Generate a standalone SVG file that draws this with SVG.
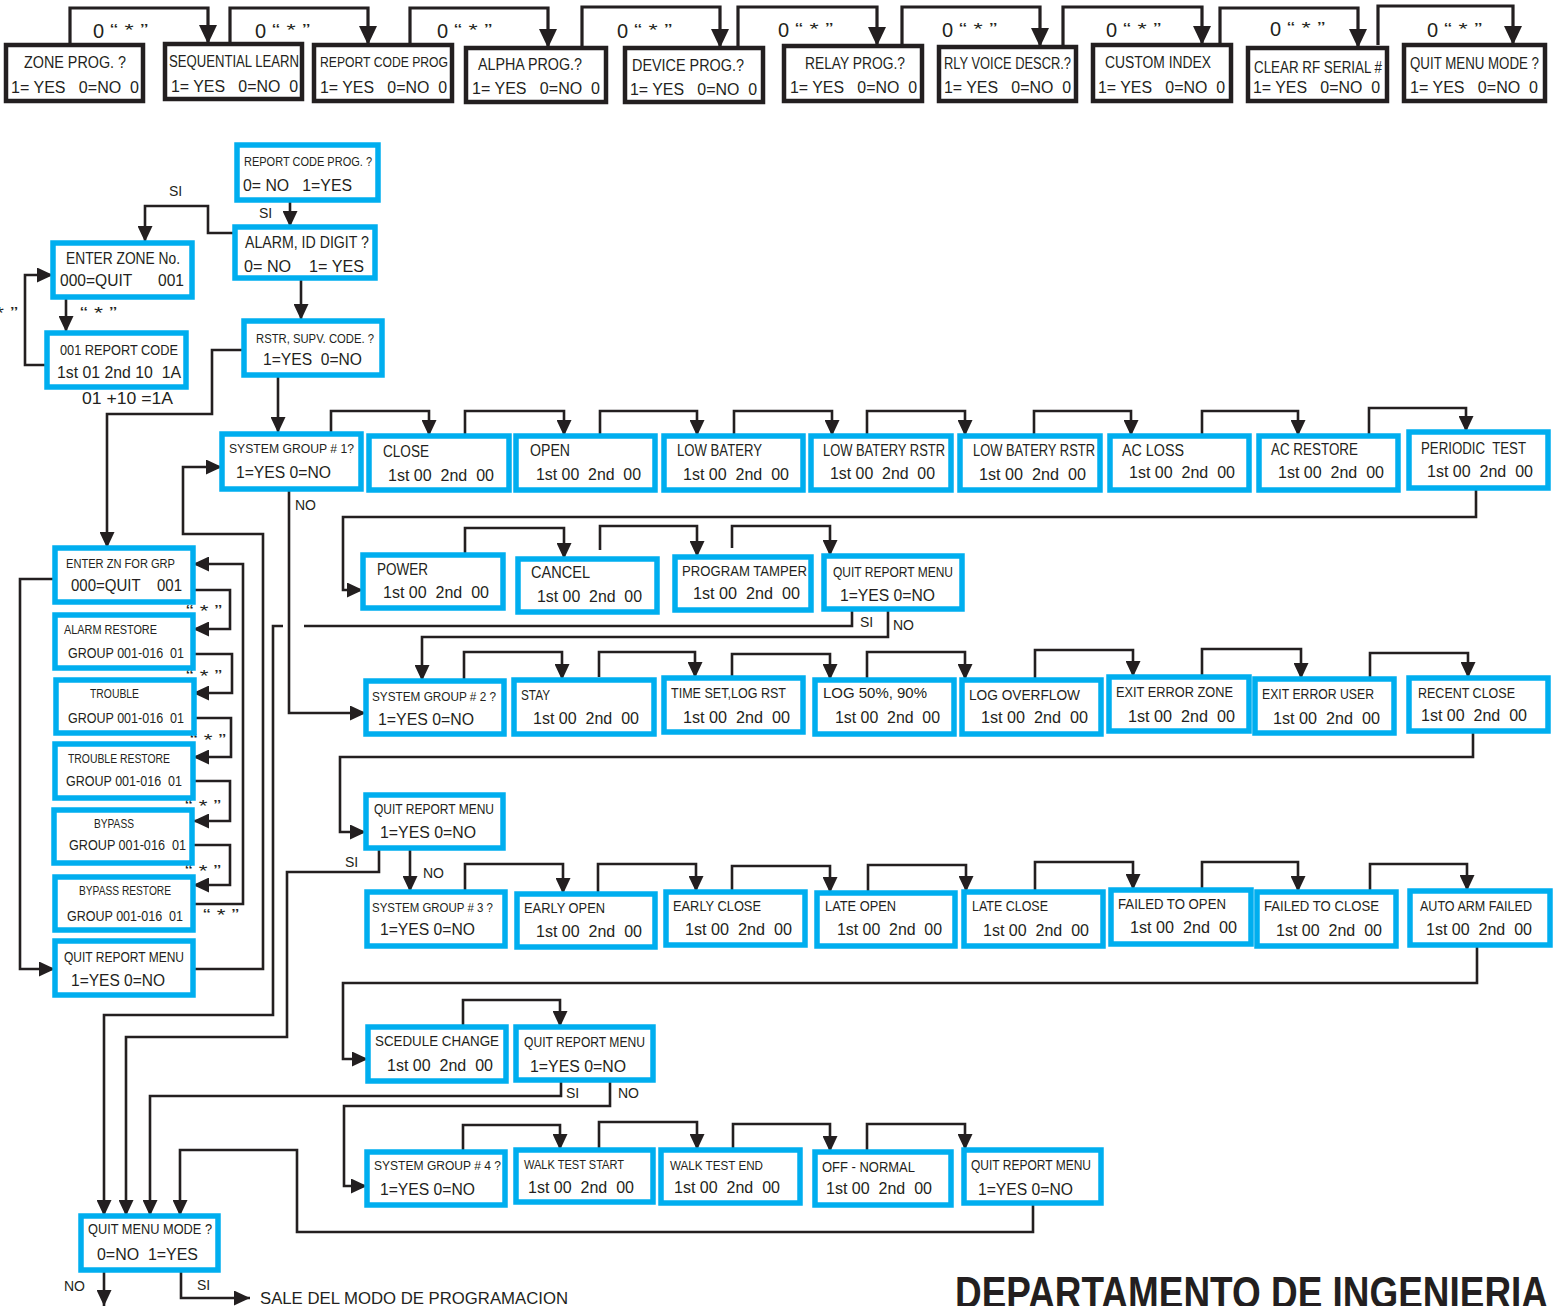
<svg xmlns="http://www.w3.org/2000/svg" width="1555" height="1306" viewBox="0 0 1555 1306" xml:space="preserve">
<style>
text{font-family:"Liberation Sans",Arial,sans-serif;fill:#231f20;font-size:16px;white-space:pre}
.s{font-size:12px}
.m{font-size:14px}
.k{fill:#fff;stroke:#231f20;stroke-width:4.5}
.b{fill:#fff;stroke:#00aeef;stroke-width:5.5}
.c{fill:none;stroke:#231f20;stroke-width:2.6}
.ct{fill:none;stroke:#231f20;stroke-width:3.2}
.q{font-size:16px}
.big{font-size:20px}
.ttl{font-size:44px;font-weight:bold}
</style>
<defs>
<marker id="a" markerUnits="userSpaceOnUse" markerWidth="16" markerHeight="15" refX="16" refY="7.5" orient="auto"><path d="M0,0 L16,7.5 L0,15 z" fill="#231f20"/></marker>
<marker id="A" markerUnits="userSpaceOnUse" markerWidth="19" markerHeight="18" refX="19" refY="9" orient="auto"><path d="M0,0 L19,9 L0,18 z" fill="#231f20"/></marker>
</defs>

<g id="connectors">
<g class="ct" marker-end="url(#A)">
<path d="M70,45 V8 H208 V44"/>
<path d="M230,44 V8 H368 V45"/>
<path d="M410,45 V8 H548 V48"/>
<path d="M582,48 V7 H720 V48"/>
<path d="M738,48 V7 H877 V46"/>
<path d="M902,46 V7 H1040 V47"/>
<path d="M1063,45 V7 H1202 V45"/>
<path d="M1220,45 V8 H1358 V48"/>
<path d="M1378,45 V6 H1513 V45"/>
</g>
<g class="c" marker-end="url(#a)">
<path d="M290,202 V227"/>
<path d="M235,233 H208 V206 H145 V242"/>
<path d="M66,297 V332"/>
<path d="M47,365 H25 V275 H53"/>
<path d="M301,278 V320"/>
<path d="M244,350 H212 V414 H107 V548"/>
<path d="M278,375 V433"/>
<path d="M331,434 V411 H429 V436"/>
<path d="M465,436 V411 H564 V436"/>
<path d="M600,436 V411 H697 V436"/>
<path d="M734,436 V411 H832 V436"/>
<path d="M867,436 V411 H965 V436"/>
<path d="M1034,436 V411 H1131 V436"/>
<path d="M1202,436 V411 H1298 V436"/>
<path d="M1369,436 V408 H1466 V432"/>
<path d="M1476,488 V517 H343 V590 H363"/>
<path d="M465,555 V528 H564 V559"/>
<path d="M600,550 V526 H697 V557"/>
<path d="M732,548 V526 H830 V556"/>
<path d="M283,626 H273 V1015 H104 V1216"/>
<path d="M888,609 V637 H422 V681"/>
<path d="M289,490 V713 H366"/>
<path d="M464,680 V652 H562 V680"/>
<path d="M599,677 V652 H695 V678"/>
<path d="M732,678 V654 H830 V680"/>
<path d="M867,680 V652 H965 V680"/>
<path d="M1035,680 V650 H1133 V677"/>
<path d="M1202,677 V649 H1301 V679"/>
<path d="M1370,679 V653 H1468 V678"/>
<path d="M1473,731 V757 H340 V832 H366"/>
<path d="M379,848 V872 H287 V1037 H126 V1216"/>
<path d="M410,848 V892"/>
<path d="M465,890 V864 H563 V894"/>
<path d="M598,894 V864 H696 V892"/>
<path d="M732,892 V866 H830 V893"/>
<path d="M868,893 V865 H966 V892"/>
<path d="M1035,892 V862 H1133 V890"/>
<path d="M1202,890 V862 H1298 V892"/>
<path d="M1370,892 V864 H1467 V891"/>
<path d="M1477,945 V983 H343 V1059 H368"/>
<path d="M463,1027 V1000 H560 V1027"/>
<path d="M561,1080 V1096 H150 V1216"/>
<path d="M610,1080 V1106 H344 V1186 H367"/>
<path d="M463,1152 V1125 H560 V1150"/>
<path d="M599,1150 V1122 H697 V1150"/>
<path d="M733,1150 V1124 H830 V1152"/>
<path d="M867,1152 V1124 H965 V1150"/>
<path d="M1033,1203 V1232 H297 V1150 H180 V1216"/>
<path d="M104,1270 V1306"/>
<path d="M181,1270 V1298 H250"/>
<path d="M55,579 H20 V969 H55"/>
<path d="M193,969 H263 V534 H183 V467 H222"/>
<path d="M193,590 H230 V629 H193"/>
<path d="M193,654 H232 V693 H193"/>
<path d="M193,718 H231 V757 H193"/>
<path d="M193,781 H230 V821 H193"/>
<path d="M193,845 H230 V885 H193"/>
<path d="M193,904 H243 V564 H193"/>
</g>
<path class="c" d="M852,609 V626 H304"/>
<g id="connector-labels">
<text x="93" y="38" class="big">0</text><text x="110" y="36" class="q" textLength="38" lengthAdjust="spacingAndGlyphs">“ * ”</text>
<text x="255" y="38" class="big">0</text><text x="272" y="36" class="q" textLength="38" lengthAdjust="spacingAndGlyphs">“ * ”</text>
<text x="437" y="38" class="big">0</text><text x="454" y="36" class="q" textLength="38" lengthAdjust="spacingAndGlyphs">“ * ”</text>
<text x="617" y="38" class="big">0</text><text x="634" y="36" class="q" textLength="38" lengthAdjust="spacingAndGlyphs">“ * ”</text>
<text x="778" y="37" class="big">0</text><text x="795" y="35" class="q" textLength="38" lengthAdjust="spacingAndGlyphs">“ * ”</text>
<text x="942" y="37" class="big">0</text><text x="959" y="35" class="q" textLength="38" lengthAdjust="spacingAndGlyphs">“ * ”</text>
<text x="1106" y="37" class="big">0</text><text x="1123" y="35" class="q" textLength="38" lengthAdjust="spacingAndGlyphs">“ * ”</text>
<text x="1270" y="36" class="big">0</text><text x="1287" y="34" class="q" textLength="38" lengthAdjust="spacingAndGlyphs">“ * ”</text>
<text x="1427" y="37" class="big">0</text><text x="1444" y="35" class="q" textLength="38" lengthAdjust="spacingAndGlyphs">“ * ”</text>
<text x="169" y="196" class="m">SI</text>
<text x="259" y="218" class="m">SI</text>
<text x="80" y="319" class="q" textLength="37" lengthAdjust="spacingAndGlyphs">“ * ”</text>
<text x="-19" y="319" class="q" textLength="37" lengthAdjust="spacingAndGlyphs">“ * ”</text>
<text x="82" y="404" textLength="91" lengthAdjust="spacingAndGlyphs">01 +10 =1A</text>
<text x="295" y="510" class="m">NO</text>
<text x="860" y="627" class="m">SI</text>
<text x="893" y="630" class="m">NO</text>
<text x="345" y="867" class="m">SI</text>
<text x="423" y="878" class="m">NO</text>
<text x="566" y="1098" class="m">SI</text>
<text x="618" y="1098" class="m">NO</text>
<text x="186" y="617" class="q" textLength="36" lengthAdjust="spacingAndGlyphs">“ * ”</text>
<text x="186" y="682" class="q" textLength="36" lengthAdjust="spacingAndGlyphs">“ * ”</text>
<text x="190" y="746" class="q" textLength="36" lengthAdjust="spacingAndGlyphs">“ * ”</text>
<text x="185" y="812" class="q" textLength="36" lengthAdjust="spacingAndGlyphs">“ * ”</text>
<text x="185" y="877" class="q" textLength="36" lengthAdjust="spacingAndGlyphs">“ * ”</text>
<text x="203" y="921" class="q" textLength="36" lengthAdjust="spacingAndGlyphs">“ * ”</text>
<text x="64" y="1291" class="m">NO</text>
<text x="197" y="1290" class="m">SI</text>
<text x="260" y="1304" font-size="18" textLength="308" lengthAdjust="spacingAndGlyphs">SALE DEL MODO DE PROGRAMACION</text>
</g>
</g>

<g id="n-zone-prog"><rect class="k" x="6" y="45" width="137" height="56"/><text x="24" y="68" textLength="102" lengthAdjust="spacingAndGlyphs">ZONE PROG. ?</text><text x="11" y="93" textLength="128" lengthAdjust="spacingAndGlyphs">1= YES   0=NO  0</text></g>
<g id="n-seq-learn"><rect class="k" x="165" y="44" width="137" height="55"/><text x="169" y="67" textLength="130" lengthAdjust="spacingAndGlyphs">SEQUENTIAL LEARN</text><text x="171" y="92" textLength="127" lengthAdjust="spacingAndGlyphs">1= YES   0=NO  0</text></g>
<g id="n-report-code-prog"><rect class="k" x="314" y="45" width="138" height="56"/><text x="320" y="67" class="m" textLength="128" lengthAdjust="spacingAndGlyphs">REPORT CODE PROG</text><text x="320" y="93" textLength="127" lengthAdjust="spacingAndGlyphs">1= YES   0=NO  0</text></g>
<g id="n-alpha-prog"><rect class="k" x="466" y="48" width="140" height="54"/><text x="478" y="70" textLength="104" lengthAdjust="spacingAndGlyphs">ALPHA PROG.?</text><text x="472" y="94" textLength="128" lengthAdjust="spacingAndGlyphs">1= YES   0=NO  0</text></g>
<g id="n-device-prog"><rect class="k" x="625" y="48" width="138" height="54"/><text x="632" y="71" textLength="112" lengthAdjust="spacingAndGlyphs">DEVICE PROG.?</text><text x="630" y="95" textLength="127" lengthAdjust="spacingAndGlyphs">1= YES   0=NO  0</text></g>
<g id="n-relay-prog"><rect class="k" x="784" y="46" width="138" height="55"/><text x="805" y="69" textLength="100" lengthAdjust="spacingAndGlyphs">RELAY PROG.?</text><text x="790" y="93" textLength="127" lengthAdjust="spacingAndGlyphs">1= YES   0=NO  0</text></g>
<g id="n-rly-voice"><rect class="k" x="939" y="47" width="137" height="54"/><text x="944" y="69" textLength="127" lengthAdjust="spacingAndGlyphs">RLY VOICE DESCR.?</text><text x="944" y="93" textLength="127" lengthAdjust="spacingAndGlyphs">1= YES   0=NO  0</text></g>
<g id="n-custom-index"><rect class="k" x="1093" y="45" width="138" height="56"/><text x="1105" y="68" textLength="106" lengthAdjust="spacingAndGlyphs">CUSTOM INDEX</text><text x="1098" y="93" textLength="127" lengthAdjust="spacingAndGlyphs">1= YES   0=NO  0</text></g>
<g id="n-clear-rf"><rect class="k" x="1248" y="48" width="139" height="53"/><text x="1254" y="73" textLength="128" lengthAdjust="spacingAndGlyphs">CLEAR RF SERIAL #</text><text x="1253" y="93" textLength="127" lengthAdjust="spacingAndGlyphs">1= YES   0=NO  0</text></g>
<g id="n-quit-menu-top"><rect class="k" x="1404" y="45" width="141" height="56"/><text x="1410" y="69" textLength="129" lengthAdjust="spacingAndGlyphs">QUIT MENU MODE ?</text><text x="1410" y="93" textLength="128" lengthAdjust="spacingAndGlyphs">1= YES   0=NO  0</text></g>

<g id="n-rcp"><rect class="b" x="237" y="145" width="141" height="55"/><text x="244" y="166" class="s" textLength="128" lengthAdjust="spacingAndGlyphs">REPORT CODE PROG. ?</text><text x="243" y="191" textLength="109" lengthAdjust="spacingAndGlyphs">0= NO   1=YES</text></g>
<g id="n-alarm-id"><rect class="b" x="235" y="227" width="140" height="51"/><text x="245" y="248" textLength="124" lengthAdjust="spacingAndGlyphs">ALARM, ID DIGIT ?</text><text x="244" y="272" textLength="120" lengthAdjust="spacingAndGlyphs">0= NO    1= YES</text></g>
<g id="n-enter-zone"><rect class="b" x="53" y="243" width="139" height="54"/><text x="66" y="264" textLength="114" lengthAdjust="spacingAndGlyphs">ENTER ZONE No.</text><text x="60" y="286" textLength="124" lengthAdjust="spacingAndGlyphs">000=QUIT      001</text></g>
<g id="n-001-report"><rect class="b" x="47" y="333" width="139" height="54"/><text x="60" y="355" class="m" textLength="118" lengthAdjust="spacingAndGlyphs">001 REPORT CODE</text><text x="57" y="378" textLength="124" lengthAdjust="spacingAndGlyphs">1st 01 2nd 10  1A</text></g>
<g id="n-rstr"><rect class="b" x="244" y="321" width="138" height="54"/><text x="256" y="343" class="s" textLength="118" lengthAdjust="spacingAndGlyphs">RSTR, SUPV. CODE. ?</text><text x="263" y="365" textLength="99" lengthAdjust="spacingAndGlyphs">1=YES  0=NO</text></g>

<g id="n-sg1"><rect class="b" x="222" y="434" width="139" height="55"/><text x="229" y="453" class="s" textLength="125" lengthAdjust="spacingAndGlyphs">SYSTEM GROUP # 1?</text><text x="236" y="478" textLength="95" lengthAdjust="spacingAndGlyphs">1=YES 0=NO</text></g>
<g id="n-close"><rect class="b" x="369" y="436" width="140" height="54"/><text x="383" y="457" textLength="46" lengthAdjust="spacingAndGlyphs">CLOSE</text><text x="388" y="481" textLength="106" lengthAdjust="spacingAndGlyphs">1st 00  2nd  00</text></g>
<g id="n-open"><rect class="b" x="516" y="436" width="139" height="54"/><text x="530" y="456" textLength="40" lengthAdjust="spacingAndGlyphs">OPEN</text><text x="536" y="480" textLength="105" lengthAdjust="spacingAndGlyphs">1st 00  2nd  00</text></g>
<g id="n-low-batery"><rect class="b" x="664" y="436" width="139" height="54"/><text x="677" y="456" textLength="85" lengthAdjust="spacingAndGlyphs">LOW BATERY</text><text x="683" y="480" textLength="106" lengthAdjust="spacingAndGlyphs">1st 00  2nd  00</text></g>
<g id="n-lbr1"><rect class="b" x="811" y="436" width="140" height="54"/><text x="823" y="456" textLength="122" lengthAdjust="spacingAndGlyphs">LOW BATERY RSTR</text><text x="830" y="479" textLength="105" lengthAdjust="spacingAndGlyphs">1st 00  2nd  00</text></g>
<g id="n-lbr2"><rect class="b" x="960" y="436" width="140" height="54"/><text x="973" y="456" textLength="122" lengthAdjust="spacingAndGlyphs">LOW BATERY RSTR</text><text x="979" y="480" textLength="107" lengthAdjust="spacingAndGlyphs">1st 00  2nd  00</text></g>
<g id="n-ac-loss"><rect class="b" x="1110" y="436" width="139" height="54"/><text x="1122" y="456" textLength="62" lengthAdjust="spacingAndGlyphs">AC LOSS</text><text x="1129" y="478" textLength="106" lengthAdjust="spacingAndGlyphs">1st 00  2nd  00</text></g>
<g id="n-ac-restore"><rect class="b" x="1259" y="436" width="139" height="54"/><text x="1271" y="455" textLength="87" lengthAdjust="spacingAndGlyphs">AC RESTORE</text><text x="1278" y="478" textLength="106" lengthAdjust="spacingAndGlyphs">1st 00  2nd  00</text></g>
<g id="n-periodic"><rect class="b" x="1409" y="432" width="139" height="56"/><text x="1421" y="454" textLength="105" lengthAdjust="spacingAndGlyphs">PERIODIC  TEST</text><text x="1427" y="477" textLength="106" lengthAdjust="spacingAndGlyphs">1st 00  2nd  00</text></g>

<g id="n-power"><rect class="b" x="363" y="555" width="140" height="53"/><text x="377" y="575" textLength="51" lengthAdjust="spacingAndGlyphs">POWER</text><text x="383" y="598" textLength="106" lengthAdjust="spacingAndGlyphs">1st 00  2nd  00</text></g>
<g id="n-cancel"><rect class="b" x="518" y="559" width="139" height="53"/><text x="531" y="578" textLength="59" lengthAdjust="spacingAndGlyphs">CANCEL</text><text x="537" y="602" textLength="105" lengthAdjust="spacingAndGlyphs">1st 00  2nd  00</text></g>
<g id="n-prog-tamper"><rect class="b" x="675" y="557" width="136" height="53"/><text x="682" y="576" class="m" textLength="125" lengthAdjust="spacingAndGlyphs">PROGRAM TAMPER</text><text x="693" y="599" textLength="107" lengthAdjust="spacingAndGlyphs">1st 00  2nd  00</text></g>
<g id="n-qrm1"><rect class="b" x="824" y="556" width="138" height="53"/><text x="833" y="577" class="m" textLength="120" lengthAdjust="spacingAndGlyphs">QUIT REPORT MENU</text><text x="840" y="601" textLength="95" lengthAdjust="spacingAndGlyphs">1=YES 0=NO</text></g>

<g id="n-sg2"><rect class="b" x="366" y="681" width="138" height="53"/><text x="372" y="701" class="s" textLength="124" lengthAdjust="spacingAndGlyphs">SYSTEM GROUP # 2 ?</text><text x="378" y="725" textLength="96" lengthAdjust="spacingAndGlyphs">1=YES 0=NO</text></g>
<g id="n-stay"><rect class="b" x="514" y="680" width="140" height="54"/><text x="521" y="700" class="m" textLength="29" lengthAdjust="spacingAndGlyphs">STAY</text><text x="533" y="724" textLength="106" lengthAdjust="spacingAndGlyphs">1st 00  2nd  00</text></g>
<g id="n-time-set"><rect class="b" x="664" y="678" width="139" height="54"/><text x="671" y="698" class="m" textLength="115" lengthAdjust="spacingAndGlyphs">TIME SET,LOG RST</text><text x="683" y="723" textLength="107" lengthAdjust="spacingAndGlyphs">1st 00  2nd  00</text></g>
<g id="n-log50"><rect class="b" x="815" y="680" width="139" height="54"/><text x="823" y="698" class="m" textLength="104" lengthAdjust="spacingAndGlyphs">LOG 50%, 90%</text><text x="835" y="723" textLength="105" lengthAdjust="spacingAndGlyphs">1st 00  2nd  00</text></g>
<g id="n-log-overflow"><rect class="b" x="962" y="680" width="139" height="54"/><text x="969" y="700" class="m" textLength="111" lengthAdjust="spacingAndGlyphs">LOG OVERFLOW</text><text x="981" y="723" textLength="107" lengthAdjust="spacingAndGlyphs">1st 00  2nd  00</text></g>
<g id="n-exit-zone"><rect class="b" x="1109" y="677" width="140" height="54"/><text x="1116" y="697" class="m" textLength="117" lengthAdjust="spacingAndGlyphs">EXIT ERROR ZONE</text><text x="1128" y="722" textLength="107" lengthAdjust="spacingAndGlyphs">1st 00  2nd  00</text></g>
<g id="n-exit-user"><rect class="b" x="1255" y="679" width="139" height="54"/><text x="1262" y="699" class="m" textLength="112" lengthAdjust="spacingAndGlyphs">EXIT ERROR USER</text><text x="1273" y="724" textLength="107" lengthAdjust="spacingAndGlyphs">1st 00  2nd  00</text></g>
<g id="n-recent-close"><rect class="b" x="1409" y="678" width="139" height="53"/><text x="1418" y="698" class="m" textLength="97" lengthAdjust="spacingAndGlyphs">RECENT CLOSE</text><text x="1421" y="721" textLength="106" lengthAdjust="spacingAndGlyphs">1st 00  2nd  00</text></g>

<g id="n-qrm2"><rect class="b" x="366" y="795" width="137" height="53"/><text x="374" y="814" class="m" textLength="120" lengthAdjust="spacingAndGlyphs">QUIT REPORT MENU</text><text x="380" y="838" textLength="96" lengthAdjust="spacingAndGlyphs">1=YES 0=NO</text></g>

<g id="n-sg3"><rect class="b" x="367" y="892" width="138" height="54"/><text x="372" y="912" class="s" textLength="121" lengthAdjust="spacingAndGlyphs">SYSTEM GROUP # 3 ?</text><text x="380" y="935" textLength="95" lengthAdjust="spacingAndGlyphs">1=YES 0=NO</text></g>
<g id="n-early-open"><rect class="b" x="517" y="894" width="138" height="53"/><text x="524" y="913" class="m" textLength="81" lengthAdjust="spacingAndGlyphs">EARLY OPEN</text><text x="536" y="937" textLength="106" lengthAdjust="spacingAndGlyphs">1st 00  2nd  00</text></g>
<g id="n-early-close"><rect class="b" x="666" y="892" width="139" height="53"/><text x="673" y="911" class="m" textLength="88" lengthAdjust="spacingAndGlyphs">EARLY CLOSE</text><text x="685" y="935" textLength="107" lengthAdjust="spacingAndGlyphs">1st 00  2nd  00</text></g>
<g id="n-late-open"><rect class="b" x="817" y="893" width="138" height="53"/><text x="825" y="911" class="m" textLength="71" lengthAdjust="spacingAndGlyphs">LATE OPEN</text><text x="837" y="935" textLength="105" lengthAdjust="spacingAndGlyphs">1st 00  2nd  00</text></g>
<g id="n-late-close"><rect class="b" x="964" y="892" width="139" height="54"/><text x="972" y="911" class="m" textLength="76" lengthAdjust="spacingAndGlyphs">LATE CLOSE</text><text x="983" y="936" textLength="106" lengthAdjust="spacingAndGlyphs">1st 00  2nd  00</text></g>
<g id="n-failed-open"><rect class="b" x="1111" y="890" width="140" height="54"/><text x="1118" y="909" class="m" textLength="108" lengthAdjust="spacingAndGlyphs">FAILED TO OPEN</text><text x="1130" y="933" textLength="107" lengthAdjust="spacingAndGlyphs">1st 00  2nd  00</text></g>
<g id="n-failed-close"><rect class="b" x="1257" y="892" width="139" height="54"/><text x="1264" y="911" class="m" textLength="115" lengthAdjust="spacingAndGlyphs">FAILED TO CLOSE</text><text x="1276" y="936" textLength="106" lengthAdjust="spacingAndGlyphs">1st 00  2nd  00</text></g>
<g id="n-auto-arm"><rect class="b" x="1410" y="891" width="140" height="54"/><text x="1420" y="911" class="m" textLength="112" lengthAdjust="spacingAndGlyphs">AUTO ARM FAILED</text><text x="1426" y="935" textLength="106" lengthAdjust="spacingAndGlyphs">1st 00  2nd  00</text></g>

<g id="n-schedule"><rect class="b" x="368" y="1027" width="138" height="54"/><text x="375" y="1046" class="m" textLength="124" lengthAdjust="spacingAndGlyphs">SCEDULE CHANGE</text><text x="387" y="1071" textLength="106" lengthAdjust="spacingAndGlyphs">1st 00  2nd  00</text></g>
<g id="n-qrm3"><rect class="b" x="516" y="1027" width="137" height="53"/><text x="524" y="1047" class="m" textLength="121" lengthAdjust="spacingAndGlyphs">QUIT REPORT MENU</text><text x="530" y="1072" textLength="96" lengthAdjust="spacingAndGlyphs">1=YES 0=NO</text></g>

<g id="n-sg4"><rect class="b" x="367" y="1152" width="138" height="53"/><text x="374" y="1170" class="s" textLength="127" lengthAdjust="spacingAndGlyphs">SYSTEM GROUP # 4 ?</text><text x="380" y="1195" textLength="95" lengthAdjust="spacingAndGlyphs">1=YES 0=NO</text></g>
<g id="n-walk-start"><rect class="b" x="516" y="1150" width="137" height="52"/><text x="524" y="1169" class="s" textLength="100" lengthAdjust="spacingAndGlyphs">WALK TEST START</text><text x="528" y="1193" textLength="106" lengthAdjust="spacingAndGlyphs">1st 00  2nd  00</text></g>
<g id="n-walk-end"><rect class="b" x="661" y="1150" width="139" height="53"/><text x="670" y="1170" class="s" textLength="93" lengthAdjust="spacingAndGlyphs">WALK TEST END</text><text x="674" y="1193" textLength="106" lengthAdjust="spacingAndGlyphs">1st 00  2nd  00</text></g>
<g id="n-off-normal"><rect class="b" x="815" y="1152" width="136" height="53"/><text x="822" y="1172" class="m" textLength="93" lengthAdjust="spacingAndGlyphs">OFF - NORMAL</text><text x="826" y="1194" textLength="106" lengthAdjust="spacingAndGlyphs">1st 00  2nd  00</text></g>
<g id="n-qrm4"><rect class="b" x="964" y="1150" width="137" height="53"/><text x="971" y="1170" class="m" textLength="120" lengthAdjust="spacingAndGlyphs">QUIT REPORT MENU</text><text x="978" y="1195" textLength="95" lengthAdjust="spacingAndGlyphs">1=YES 0=NO</text></g>

<g id="n-enter-zn-grp"><rect class="b" x="55" y="548" width="138" height="54"/><text x="66" y="568" class="s" textLength="109" lengthAdjust="spacingAndGlyphs">ENTER ZN FOR GRP</text><text x="71" y="591" textLength="111" lengthAdjust="spacingAndGlyphs">000=QUIT    001</text></g>
<g id="n-alarm-restore"><rect class="b" x="55" y="615" width="138" height="53"/><text x="64" y="634" class="s" textLength="93" lengthAdjust="spacingAndGlyphs">ALARM RESTORE</text><text x="68" y="658" class="m" textLength="116" lengthAdjust="spacingAndGlyphs">GROUP 001-016  01</text></g>
<g id="n-trouble"><rect class="b" x="56" y="680" width="138" height="53"/><text x="90" y="698" class="s" textLength="49" lengthAdjust="spacingAndGlyphs">TROUBLE</text><text x="68" y="723" class="m" textLength="116" lengthAdjust="spacingAndGlyphs">GROUP 001-016  01</text></g>
<g id="n-trouble-restore"><rect class="b" x="55" y="744" width="138" height="54"/><text x="68" y="763" class="s" textLength="102" lengthAdjust="spacingAndGlyphs">TROUBLE RESTORE</text><text x="66" y="786" class="m" textLength="116" lengthAdjust="spacingAndGlyphs">GROUP 001-016  01</text></g>
<g id="n-bypass"><rect class="b" x="54" y="810" width="138" height="53"/><text x="94" y="828" class="s" textLength="40" lengthAdjust="spacingAndGlyphs">BYPASS</text><text x="69" y="850" class="m" textLength="117" lengthAdjust="spacingAndGlyphs">GROUP 001-016  01</text></g>
<g id="n-bypass-restore"><rect class="b" x="55" y="877" width="138" height="53"/><text x="79" y="895" class="s" textLength="92" lengthAdjust="spacingAndGlyphs">BYPASS RESTORE</text><text x="67" y="921" class="m" textLength="116" lengthAdjust="spacingAndGlyphs">GROUP 001-016  01</text></g>
<g id="n-qrm-left"><rect class="b" x="55" y="941" width="138" height="54"/><text x="64" y="962" class="m" textLength="120" lengthAdjust="spacingAndGlyphs">QUIT REPORT MENU</text><text x="71" y="986" textLength="94" lengthAdjust="spacingAndGlyphs">1=YES 0=NO</text></g>

<g id="n-quit-menu-mode"><rect class="b" x="81" y="1216" width="137" height="54"/><text x="88" y="1234" class="m" textLength="124" lengthAdjust="spacingAndGlyphs">QUIT MENU MODE ?</text><text x="97" y="1260" textLength="101" lengthAdjust="spacingAndGlyphs">0=NO  1=YES</text></g>

<text class="ttl" x="955" y="1308" textLength="593" lengthAdjust="spacingAndGlyphs">DEPARTAMENTO DE INGENIERIA</text>
</svg>
